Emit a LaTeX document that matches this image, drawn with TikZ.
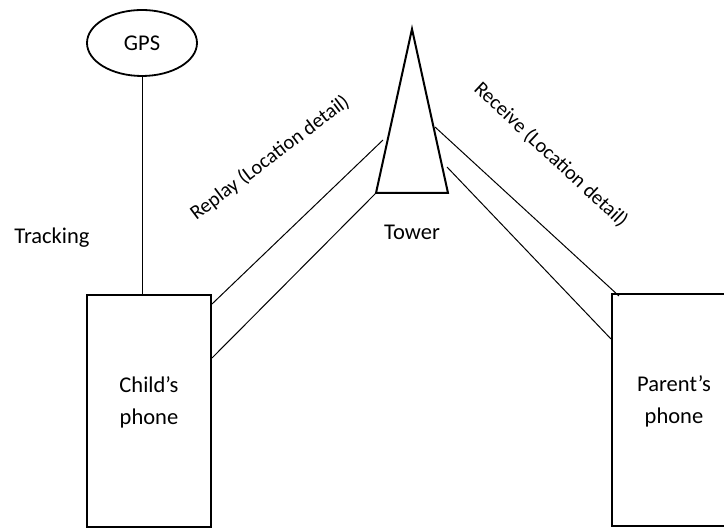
\documentclass[tikz,border=0pt]{standalone}
\usepackage{fontspec}
\setmainfont{Carlito}
\usetikzlibrary{shapes.geometric}

\begin{document}
\begin{tikzpicture}[x=0.5pt,y=-0.5pt,
        phone/.style={draw,line width=1pt,minimum width=62pt,minimum height=116pt,inner sep=0pt},
        link/.style={line width=0.5pt},
        lbl/.style={font=\fontsize{11.25}{16}\selectfont,align=center},
        tag/.style={font=\fontsize{10.2}{12}\selectfont}]
        \useasboundingbox (0,0) rectangle (724,528);
        \clip (0,0) rectangle (724,528);

        % GPS unit above the child's phone
        \node[draw,ellipse,line width=0.9pt,minimum width=55pt,minimum height=33pt,inner sep=0pt,lbl] (gps) at (142,43) {GPS};
        \node[phone] (child) at (149,411) {};
        \node[lbl] (childtxt) at (149,402) {Child's\\phone};
        \draw[link] (gps.south) -- (gps.south |- child.north);
        \node[lbl] (track) at (52,238) {Tracking};

        % Tower (the miter tip sits above the apex point)
        \coordinate (top) at (412,29);
        \coordinate (bl) at (376,193);
        \coordinate (br) at (448,193);
        \draw[line width=1pt] (bl) -- (top) -- (br) -- cycle;
        \node[lbl] (towertxt) at (412,232) {Tower};

        % Parent's phone, runs off the right edge
        \node[phone] (parent) at (674,410) {};
        \node[lbl] (parenttxt) at (674,401) {Parent's\\phone};

        % Child -> tower
        \coordinate (t1) at (383,140);
        \draw[link] ([yshift=-5pt]child.north east) -- (t1);
        \draw[link] ([yshift=-32pt]child.north east) -- (bl);

        % Tower -> parent
        \coordinate (t2) at (435,127);
        \coordinate (t3) at (447,167);
        \draw[link] (t2) -- ([xshift=4pt,yshift=-1.5pt]parent.north west);
        \draw[link] (t3) -- ([yshift=-23pt]parent.north west);

        \node[tag,rotate=37] (replay) at (270,158) {Replay (Location detail)};
        \node[tag,rotate=-43] (receive) at (551,155) {Receive (Location detail)};
    \end{tikzpicture}
\end{document}
